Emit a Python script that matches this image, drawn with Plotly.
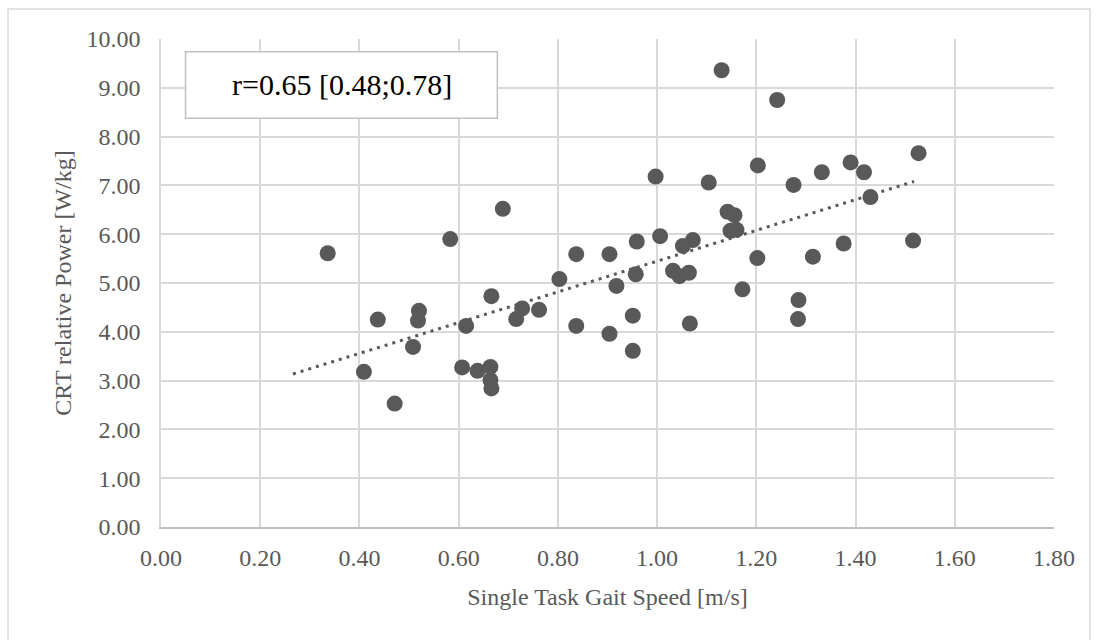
import plotly.graph_objects as go

gait_speed = [0.336, 0.409, 0.437, 0.471, 0.508, 0.518, 0.520, 0.583, 0.607, 0.615,
              0.638, 0.664, 0.664, 0.666, 0.666, 0.689, 0.716, 0.728, 0.762, 0.803,
              0.837, 0.837, 0.904, 0.904, 0.918, 0.951, 0.951, 0.957, 0.959, 0.997,
              1.006, 1.032, 1.045, 1.052, 1.064, 1.066, 1.072, 1.104, 1.130, 1.142,
              1.156, 1.148, 1.160, 1.172, 1.202, 1.203, 1.242, 1.275, 1.284, 1.285,
              1.314, 1.332, 1.376, 1.390, 1.417, 1.430, 1.516, 1.527]
crt_power = [5.61, 3.18, 4.25, 2.53, 3.69, 4.23, 4.43, 5.90, 3.27, 4.12,
             3.20, 3.28, 3.01, 2.84, 4.73, 6.52, 4.26, 4.48, 4.45, 5.08,
             5.59, 4.12, 5.59, 3.96, 4.94, 4.33, 3.61, 5.18, 5.85, 7.18,
             5.96, 5.25, 5.14, 5.76, 5.21, 4.17, 5.88, 7.06, 9.36, 6.46,
             6.39, 6.07, 6.09, 4.87, 5.51, 7.41, 8.75, 7.01, 4.26, 4.65,
             5.54, 7.27, 5.81, 7.47, 7.27, 6.76, 5.87, 7.66]

trend_x = [0.266, 1.518]
trend_y = [3.135, 7.08]

x_ticks = [0.0, 0.2, 0.4, 0.6, 0.8, 1.0, 1.2, 1.4, 1.6, 1.8]
y_ticks = [0, 1, 2, 3, 4, 5, 6, 7, 8, 9, 10]
annotation_text = "r=0.65 [0.48;0.78]"

GRAY = "#595959"
GRID = "#d9d9d9"
FONT = "Liberation Serif"

fig = go.Figure()
fig.add_trace(go.Scatter(
    x=gait_speed, y=crt_power, mode="markers",
    marker=dict(color=GRAY, size=16, line=dict(width=0)),
    showlegend=False, hoverinfo="x+y"))
fig.add_trace(go.Scatter(
    x=trend_x, y=trend_y, mode="lines",
    line=dict(color=GRAY, width=3, dash="3px,5px"),
    showlegend=False, hoverinfo="skip"))

# outer chart border
fig.add_shape(type="rect", xref="paper", yref="paper",
              x0=-0.1713, x1=1.0403, y0=-0.26, y1=1.0615,
              line=dict(color=GRID, width=1.5), fillcolor="rgba(0,0,0,0)", layer="below")
# annotation box
fig.add_shape(type="rect", xref="x", yref="y",
              x0=0.0494, x1=0.678, y0=8.375, y1=9.74,
              line=dict(color="#bfbfbf", width=1.5), fillcolor="white", layer="above")
fig.add_annotation(x=0.364, y=9.06, xref="x", yref="y", text=annotation_text,
                   showarrow=False, font=dict(family=FONT, size=30, color="#000000"))

fig.update_layout(
    width=1098, height=640,
    margin=dict(l=161, r=44, t=39, b=113),
    paper_bgcolor="white", plot_bgcolor="white",
    font=dict(family=FONT, color=GRAY),
)
fig.update_xaxes(
    range=[0, 1.8], tickvals=x_ticks, ticktext=[f"{v:.2f}" for v in x_ticks],
    showgrid=True, gridcolor=GRID, gridwidth=1.5,
    showline=True, linecolor="#bfbfbf", linewidth=1.5, zeroline=False,
    tickfont=dict(family=FONT, size=24, color=GRAY), ticklabelstandoff=8,
    title=dict(text="Single Task Gait Speed [m/s]", standoff=19,
               font=dict(family=FONT, size=24, color=GRAY)),
)
fig.update_yaxes(
    range=[0, 10], tickvals=y_ticks, ticktext=[f"{v:.2f}" for v in y_ticks],
    showgrid=True, gridcolor=GRID, gridwidth=1.5,
    showline=True, linecolor=GRID, linewidth=1.5, zeroline=False,
    tickfont=dict(family=FONT, size=24, color=GRAY), ticklabelstandoff=14,
    title=dict(text="CRT relative Power [W/kg]", standoff=8,
               font=dict(family=FONT, size=24, color=GRAY)),
)

fig.write_html("out.html")
